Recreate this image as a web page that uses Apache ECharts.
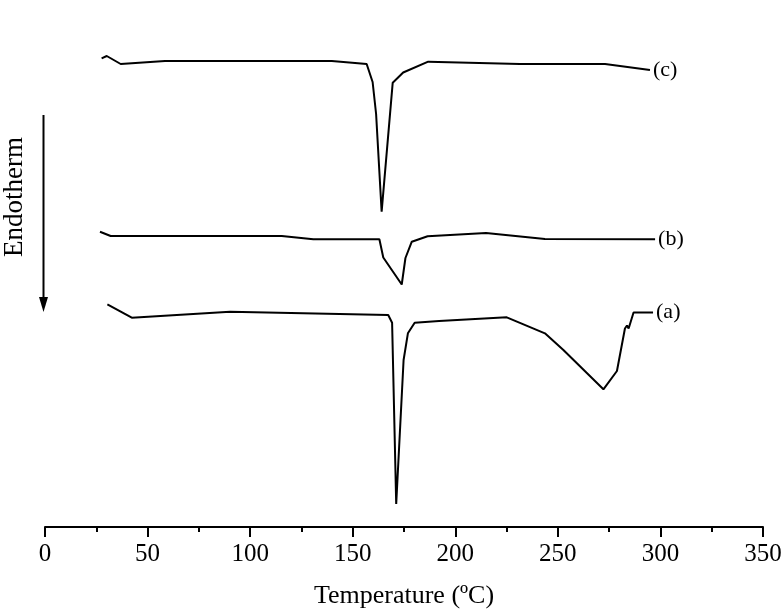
<!DOCTYPE html>
<html>
<head>
<meta charset="utf-8">
<script src="https://cdn.jsdelivr.net/npm/echarts@6/dist/echarts.min.js"></script>
<style>html,body{margin:0;padding:0;background:#fff}#main{width:783px;height:612px}</style>
</head>
<body>
<div id="main"></div>
<script>
// Temperature (°C) and heat flow (arbitrary units, offset per curve)
const tempC = [27.6, 30.1, 36.9, 58.5, 139.8, 156.8, 159.7, 161.4, 164.1, 169.5, 174.6, 186.8, 231.5, 273.0, 294.9];
const flowC = [46.87, 47.10, 46.30, 46.60, 46.60, 46.30, 44.50, 41.30, 31.53, 44.43, 45.45, 46.53, 46.30, 46.30, 45.70];

const tempB = [26.8, 32.0, 115.4, 130.8, 163.0, 164.9, 173.9, 175.7, 178.8, 186.5, 215.0, 243.7, 297.4];
const flowB = [29.53, 29.10, 29.10, 28.77, 28.77, 26.95, 24.25, 26.90, 28.53, 29.07, 29.40, 28.80, 28.77];

const tempA = [30.4, 42.3, 90.2, 167.3, 169.2, 171.2, 174.8, 176.9, 180.2, 192.1, 225.1, 243.7, 252.7, 272.2, 278.8, 282.7, 283.7, 284.5, 286.9, 296.4];
const flowA = [22.27, 20.93, 21.53, 21.20, 20.43, 2.30, 16.70, 19.37, 20.43, 20.60, 20.97, 19.37, 17.70, 13.77, 15.60, 19.85, 20.15, 19.85, 21.45, 21.45];

const xTicks = [0, 50, 100, 150, 200, 250, 300, 350];
const curveLabels = ['(a)', '(b)', '(c)'];

function pairs(xs, ys) { return xs.map((x, i) => [x, ys[i]]); }

const font = '"Liberation Serif", "Times New Roman", serif';
const chart = echarts.init(document.getElementById('main'), null, {renderer: 'canvas'});

function mkSeries(name, data) {
  return {
    name: name, type: 'line', data: data, symbol: 'none',
    lineStyle: {color: '#000', width: 2},
    endLabel: {show: true, formatter: name, distance: 3, color: '#000', fontFamily: font, fontSize: 22},
    animation: false
  };
}

chart.setOption({
  animation: false,
  grid: {left: 45, right: 20, top: 40, bottom: 85, containLabel: false, outerBoundsMode: 'none'},
  xAxis: {
    type: 'value', min: xTicks[0], max: xTicks[xTicks.length - 1], interval: 50,
    name: 'Temperature (ºC)', nameLocation: 'middle', nameGap: 56,
    nameTextStyle: {fontFamily: font, fontSize: 26, color: '#000'},
    axisLine: {show: true, lineStyle: {color: '#000', width: 2}},
    axisTick: {show: true, length: 10, lineStyle: {color: '#000', width: 2}},
    minorTick: {show: true, splitNumber: 2, length: 5, lineStyle: {color: '#000', width: 2}},
    axisLabel: {fontFamily: font, fontSize: 25, color: '#000', margin: 15, showMinLabel: true, showMaxLabel: true},
    splitLine: {show: false}
  },
  yAxis: {
    type: 'value', min: 0, max: 48.7, show: false, splitLine: {show: false}
  },
  graphic: [
    {type: 'line', shape: {x1: 43.5, y1: 115, x2: 43.5, y2: 300}, style: {stroke: '#000', lineWidth: 2}},
    {type: 'polygon', shape: {points: [[39, 297], [48, 297], [43.5, 312]]}, style: {fill: '#000'}},
    {type: 'text', x: 15, y: 197, rotation: Math.PI / 2, originX: 0, originY: 0,
     style: {text: 'Endotherm', font: '27px ' + font, fill: '#000', textAlign: 'center', textVerticalAlign: 'middle'}}
  ],
  series: [
    mkSeries(curveLabels[2], pairs(tempC, flowC)),
    mkSeries(curveLabels[1], pairs(tempB, flowB)),
    mkSeries(curveLabels[0], pairs(tempA, flowA))
  ]
});
</script>
</body>
</html>
